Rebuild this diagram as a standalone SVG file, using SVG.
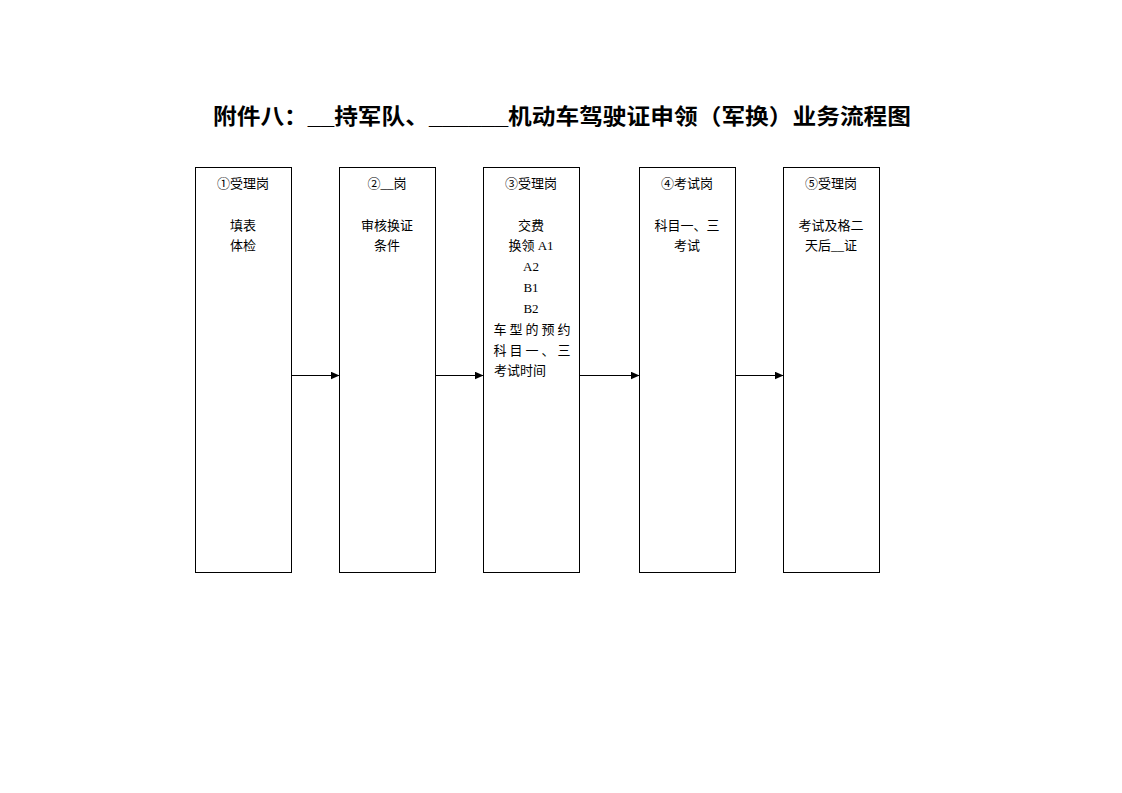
<svg xmlns="http://www.w3.org/2000/svg" width="1122" height="793" viewBox="0 0 1122 793">
<style>
.box{fill:#fff;stroke:#000;stroke-width:1}
.t{font-family:"Liberation Serif","Noto Sans CJK SC",serif;font-size:13px;fill:#000;text-anchor:middle}
.title{font-family:"Liberation Sans","Noto Sans CJK SC",sans-serif;font-size:22px;font-weight:bold;fill:#000}
.c{stroke:#000;stroke-width:1;fill:none}
</style>
<defs>
<marker id="ah" markerWidth="10" markerHeight="8" refX="9" refY="4" orient="auto" markerUnits="userSpaceOnUse">
<path d="M0,0 L9,4 L0,8 Z" fill="#000"/>
</marker>
</defs>
<rect width="1122" height="793" fill="#fff"/>
<text class="title" x="213" y="124" textLength="698" lengthAdjust="spacingAndGlyphs">附件八：__持军队、______机动车驾驶证申领（军换）业务流程图</text>
<g id="n1">
<rect class="box" x="195.5" y="167.5" width="96" height="405"/>
<text class="t" x="243" y="188">①受理岗</text>
<text class="t" x="243" y="230">填表</text>
<text class="t" x="243" y="250">体检</text>
</g>
<g id="n2">
<rect class="box" x="339.5" y="167.5" width="96" height="405"/>
<text class="t" x="387" y="188">②__岗</text>
<text class="t" x="387" y="230">审核换证</text>
<text class="t" x="387" y="250">条件</text>
</g>
<g id="n3">
<rect class="box" x="483.5" y="167.5" width="96" height="405"/>
<text class="t" x="531" y="188">③受理岗</text>
<text class="t" x="531" y="230">交费</text>
<text class="t" x="531" y="250">换领 A1</text>
<text class="t" x="531" y="271">A2</text>
<text class="t" x="531" y="292">B1</text>
<text class="t" x="531" y="313">B2</text>
<text class="t" x="532" y="334" textLength="77" lengthAdjust="spacing">车型的预约</text>
<text class="t" x="532" y="355" textLength="77" lengthAdjust="spacing">科目一、三</text>
<text class="t" x="494" y="375" style="text-anchor:start">考试时间</text>
</g>
<g id="n4">
<rect class="box" x="639.5" y="167.5" width="96" height="405"/>
<text class="t" x="687" y="188">④考试岗</text>
<text class="t" x="687" y="230">科目一、三</text>
<text class="t" x="687" y="250">考试</text>
</g>
<g id="n5">
<rect class="box" x="783.5" y="167.5" width="96" height="405"/>
<text class="t" x="831" y="188">⑤受理岗</text>
<text class="t" x="831" y="230">考试及格二</text>
<text class="t" x="831" y="250">天后__证</text>
</g>
<g id="connectors">
<line class="c" x1="291.5" y1="375.5" x2="339.5" y2="375.5" marker-end="url(#ah)"/>
<line class="c" x1="435.5" y1="375.5" x2="483.5" y2="375.5" marker-end="url(#ah)"/>
<line class="c" x1="579.5" y1="375.5" x2="639.5" y2="375.5" marker-end="url(#ah)"/>
<line class="c" x1="735.5" y1="375.5" x2="783.5" y2="375.5" marker-end="url(#ah)"/>
</g>
</svg>
